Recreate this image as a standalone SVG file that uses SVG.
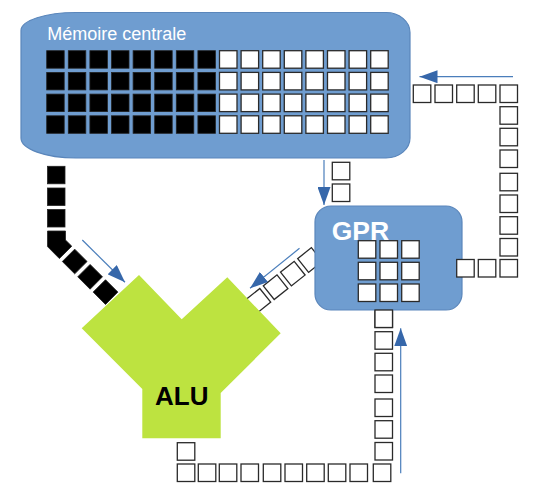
<svg xmlns="http://www.w3.org/2000/svg" xmlns:xlink="http://www.w3.org/1999/xlink" width="552" height="494" viewBox="0 0 552 494">
<style>
.box{fill:#6f9dd0;stroke:#5a86bb;stroke-width:1.2}
.w{fill:#fff;stroke:#2a2a2a;stroke-width:1.3}
.b{fill:#000;stroke:#222;stroke-width:0.8}
.arr{fill:none;stroke:#4a7ebb;stroke-width:1.2;marker-end:url(#ah)}
.lbl{font-family:"Liberation Sans",Arial,sans-serif}
</style>
<defs>
<marker id="ah" markerUnits="userSpaceOnUse" markerWidth="19" markerHeight="13" refX="18" refY="6.5" orient="auto">
<path d="M0,0 L18,6.5 L0,13 Z" fill="#3667aa"/>
</marker>
<rect id="sq" x="0" y="0" width="17.5" height="17.5"/>
<rect id="sqc" x="-8.75" y="-8.75" width="17.5" height="17.5"/>
</defs>

<g id="memory">
<path class="box" d="M76 12.5 H386 A24 20 0 0 1 410 32.5 V138 A24 20 0 0 1 386 158 H76 A55 20 0 0 1 21 138 V30.5 A55 18 0 0 1 76 12.5 Z"/>
<text class="lbl" x="47.3" y="40" font-size="18" fill="#fff">Mémoire centrale</text>
<g class="b">
<use xlink:href="#sq" x="46.7" y="50.7"/><use xlink:href="#sq" x="68.3" y="50.7"/><use xlink:href="#sq" x="89.9" y="50.7"/><use xlink:href="#sq" x="111.5" y="50.7"/><use xlink:href="#sq" x="133.1" y="50.7"/><use xlink:href="#sq" x="154.7" y="50.7"/><use xlink:href="#sq" x="176.3" y="50.7"/><use xlink:href="#sq" x="197.9" y="50.7"/>
<use xlink:href="#sq" x="46.7" y="72.4"/><use xlink:href="#sq" x="68.3" y="72.4"/><use xlink:href="#sq" x="89.9" y="72.4"/><use xlink:href="#sq" x="111.5" y="72.4"/><use xlink:href="#sq" x="133.1" y="72.4"/><use xlink:href="#sq" x="154.7" y="72.4"/><use xlink:href="#sq" x="176.3" y="72.4"/><use xlink:href="#sq" x="197.9" y="72.4"/>
<use xlink:href="#sq" x="46.7" y="94.1"/><use xlink:href="#sq" x="68.3" y="94.1"/><use xlink:href="#sq" x="89.9" y="94.1"/><use xlink:href="#sq" x="111.5" y="94.1"/><use xlink:href="#sq" x="133.1" y="94.1"/><use xlink:href="#sq" x="154.7" y="94.1"/><use xlink:href="#sq" x="176.3" y="94.1"/><use xlink:href="#sq" x="197.9" y="94.1"/>
<use xlink:href="#sq" x="46.7" y="115.8"/><use xlink:href="#sq" x="68.3" y="115.8"/><use xlink:href="#sq" x="89.9" y="115.8"/><use xlink:href="#sq" x="111.5" y="115.8"/><use xlink:href="#sq" x="133.1" y="115.8"/><use xlink:href="#sq" x="154.7" y="115.8"/><use xlink:href="#sq" x="176.3" y="115.8"/><use xlink:href="#sq" x="197.9" y="115.8"/>
</g>
<g class="w">
<use xlink:href="#sq" x="219.5" y="50.7"/><use xlink:href="#sq" x="241.1" y="50.7"/><use xlink:href="#sq" x="262.7" y="50.7"/><use xlink:href="#sq" x="284.3" y="50.7"/><use xlink:href="#sq" x="305.9" y="50.7"/><use xlink:href="#sq" x="327.5" y="50.7"/><use xlink:href="#sq" x="349.1" y="50.7"/><use xlink:href="#sq" x="370.7" y="50.7"/>
<use xlink:href="#sq" x="219.5" y="72.4"/><use xlink:href="#sq" x="241.1" y="72.4"/><use xlink:href="#sq" x="262.7" y="72.4"/><use xlink:href="#sq" x="284.3" y="72.4"/><use xlink:href="#sq" x="305.9" y="72.4"/><use xlink:href="#sq" x="327.5" y="72.4"/><use xlink:href="#sq" x="349.1" y="72.4"/><use xlink:href="#sq" x="370.7" y="72.4"/>
<use xlink:href="#sq" x="219.5" y="94.1"/><use xlink:href="#sq" x="241.1" y="94.1"/><use xlink:href="#sq" x="262.7" y="94.1"/><use xlink:href="#sq" x="284.3" y="94.1"/><use xlink:href="#sq" x="305.9" y="94.1"/><use xlink:href="#sq" x="327.5" y="94.1"/><use xlink:href="#sq" x="349.1" y="94.1"/><use xlink:href="#sq" x="370.7" y="94.1"/>
<use xlink:href="#sq" x="219.5" y="115.8"/><use xlink:href="#sq" x="241.1" y="115.8"/><use xlink:href="#sq" x="262.7" y="115.8"/><use xlink:href="#sq" x="284.3" y="115.8"/><use xlink:href="#sq" x="305.9" y="115.8"/><use xlink:href="#sq" x="327.5" y="115.8"/><use xlink:href="#sq" x="349.1" y="115.8"/><use xlink:href="#sq" x="370.7" y="115.8"/>
</g>
</g>

<g id="connectors">
<!-- GPR to ALU diagonal chain (partly under GPR) -->
<g class="w">
<use xlink:href="#sqc" transform="translate(310,260) rotate(-38.5)"/>
<use xlink:href="#sqc" transform="translate(292.8,273.6) rotate(-38.5)"/>
<use xlink:href="#sqc" transform="translate(275.6,287.2) rotate(-38.5)"/>
<use xlink:href="#sqc" transform="translate(258.4,300.8) rotate(-38.5)"/>
</g>
<!-- memory to ALU black chain -->
<g class="b">
<use xlink:href="#sq" x="47.5" y="166.3"/>
<use xlink:href="#sq" x="47.5" y="188"/>
<use xlink:href="#sq" x="47.5" y="209.5"/>
<path d="M47.5 231 H65.5 V240 L71.8 246.2 L59.4 258.6 L47.5 246.6 Z"/>
<use xlink:href="#sqc" transform="translate(74.7,261.5) rotate(45)"/>
<use xlink:href="#sqc" transform="translate(90.1,276.8) rotate(45)"/>
<use xlink:href="#sqc" transform="translate(105.5,292.1) rotate(45)"/>
</g>
<!-- memory to GPR -->
<g class="w">
<use xlink:href="#sq" x="332.3" y="162.3"/>
<use xlink:href="#sq" x="332.3" y="184"/>
</g>
<!-- GPR to memory loop (right) -->
<g class="w">
<use xlink:href="#sq" x="413.3" y="85"/><use xlink:href="#sq" x="435" y="85"/><use xlink:href="#sq" x="456.7" y="85"/><use xlink:href="#sq" x="478.3" y="85"/><use xlink:href="#sq" x="500" y="85"/>
<use xlink:href="#sq" x="500" y="106.7"/><use xlink:href="#sq" x="500" y="128.3"/><use xlink:href="#sq" x="500" y="150"/><use xlink:href="#sq" x="500" y="173.3"/><use xlink:href="#sq" x="500" y="195"/><use xlink:href="#sq" x="500" y="216.7"/><use xlink:href="#sq" x="500" y="238.5"/><use xlink:href="#sq" x="500" y="259.5"/>
<use xlink:href="#sq" x="478.3" y="259.5"/>
</g>
<!-- ALU to GPR loop (bottom) -->
<g class="w">
<use xlink:href="#sq" x="177.3" y="442.7"/>
<use xlink:href="#sq" x="177.3" y="464"/><use xlink:href="#sq" x="198.3" y="464"/><use xlink:href="#sq" x="219.3" y="464"/><use xlink:href="#sq" x="241" y="464"/><use xlink:href="#sq" x="263.3" y="464"/><use xlink:href="#sq" x="285" y="464"/><use xlink:href="#sq" x="306.7" y="464"/><use xlink:href="#sq" x="328.3" y="464"/><use xlink:href="#sq" x="350" y="464"/><use xlink:href="#sq" x="373.3" y="464"/>
<use xlink:href="#sq" x="375" y="442.5"/><use xlink:href="#sq" x="375" y="420.7"/><use xlink:href="#sq" x="375" y="399"/><use xlink:href="#sq" x="375" y="375"/><use xlink:href="#sq" x="375" y="353.3"/><use xlink:href="#sq" x="375" y="331.7"/><use xlink:href="#sq" x="375" y="310"/>
</g>
<!-- arrows -->
<line class="arr" x1="513" y1="76.7" x2="419.5" y2="76.7"/>
<line class="arr" x1="324" y1="160" x2="324" y2="205"/>
<line class="arr" x1="82.3" y1="240" x2="125" y2="282.3"/>
<line class="arr" x1="299.5" y1="248.3" x2="250" y2="288.3"/>
<line class="arr" x1="400.7" y1="473.3" x2="400.7" y2="328.3"/>
</g>

<g id="gpr">
<rect class="box" x="315" y="206" width="147" height="104" rx="16" ry="16"/>
<text class="lbl" x="331.7" y="240" font-size="26.5" font-weight="bold" fill="#fff">GPR</text>
<g class="w">
<use xlink:href="#sq" x="358.3" y="240.7"/><use xlink:href="#sq" x="380" y="240.7"/><use xlink:href="#sq" x="401.7" y="240.7"/>
<use xlink:href="#sq" x="358.3" y="262.3"/><use xlink:href="#sq" x="380" y="262.3"/><use xlink:href="#sq" x="401.7" y="262.3"/>
<use xlink:href="#sq" x="358.3" y="284"/><use xlink:href="#sq" x="380" y="284"/><use xlink:href="#sq" x="401.7" y="284"/>
<use xlink:href="#sq" x="456.7" y="259.5"/>
<use xlink:href="#sq" x="375" y="310"/>
</g>
</g>

<g id="alu">
<polygon points="139,275 181.7,319.3 227.3,277.3 280.7,333.3 220.7,393 220.7,438.3 142.3,438.3 142.3,389 81.7,328.3" fill="#bde340"/>
<text class="lbl" x="181.7" y="405" font-size="26" font-weight="bold" fill="#000" text-anchor="middle">ALU</text>
</g>
</svg>
